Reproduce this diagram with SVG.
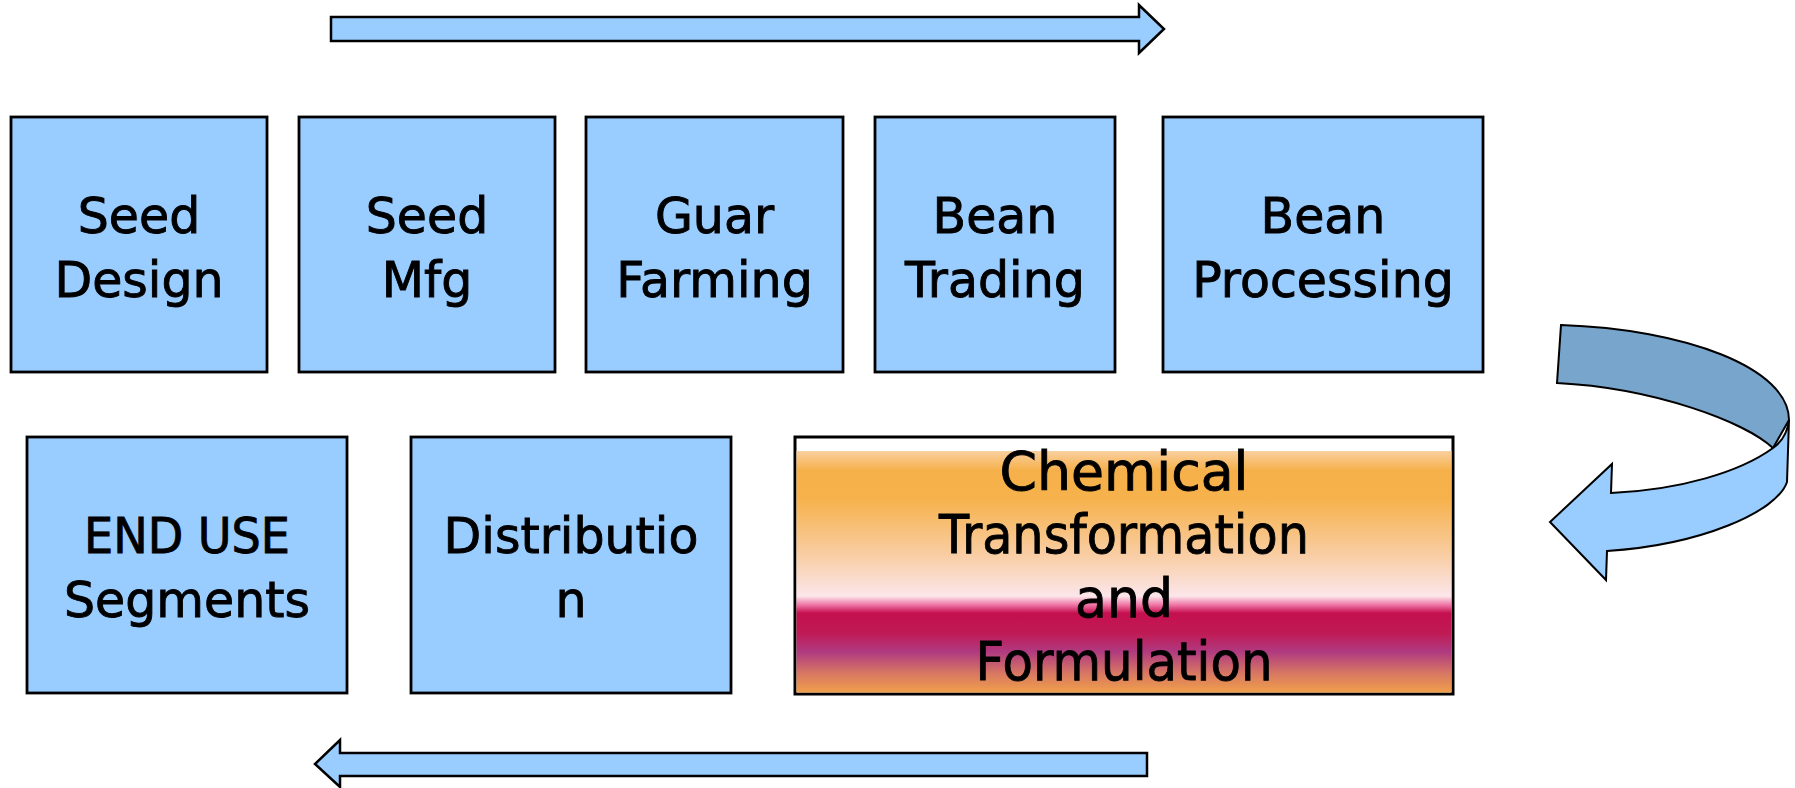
<svg xmlns="http://www.w3.org/2000/svg" width="1795" height="788" viewBox="0 0 1795 788">
<style>
.box{fill:#99ccff;stroke:#000;stroke-width:2.8}
.lbl{font-family:"DejaVu Sans",sans-serif;font-size:49px;fill:#000;stroke:#000;stroke-width:0.9;text-anchor:middle}
.big{font-size:53px}
.arr{fill:#99ccff;stroke:#000;stroke-width:2.5;stroke-linejoin:miter}
</style>
<defs>
<linearGradient id="chem" x1="0" y1="451" x2="0" y2="693" gradientUnits="userSpaceOnUse">
<stop offset="0" stop-color="#f9d0a0"/>
<stop offset="0.08" stop-color="#f6b04a"/>
<stop offset="0.2" stop-color="#f6b24c"/>
<stop offset="0.42" stop-color="#f9cca0"/>
<stop offset="0.6" stop-color="#fbe6ea"/>
<stop offset="0.635" stop-color="#f078a8"/>
<stop offset="0.67" stop-color="#c4104e"/>
<stop offset="0.75" stop-color="#c01a54"/>
<stop offset="0.83" stop-color="#b03a80"/>
<stop offset="0.92" stop-color="#d87862"/>
<stop offset="1" stop-color="#f0a04a"/>
</linearGradient>
</defs>
<rect width="1795" height="788" fill="#fff"/>
<g id="connectors">
<path class="arr" d="M331,17 L1139,17 L1139,5 L1164,29 L1139,53 L1139,41 L331,41 Z"/>
<path class="arr" d="M1147,753 L340,753 L340,740 L315,764 L340,787 L340,776 L1147,776 Z"/>
<g id="curved-arrow">
<path d="M1561,325 C1685,329 1789,368 1789,420 L1773,448 C1745,422 1655,388 1557,383 Z" fill="#78a5cc" stroke="#000" stroke-width="2"/>
<path d="M1773,448 Q1787,438 1789,420 L1787,482 C1777,512 1700,545 1607,551 L1606,580 L1550,522 L1612,464 L1611,493 C1680,490 1740,472 1773,448 Z" fill="#99ccff" stroke="#000" stroke-width="2" stroke-linejoin="miter"/>
</g>
</g>
<g id="seed-design">
<rect class="box" x="11" y="117" width="256" height="255"/>
<text class="lbl" x="139" y="233">Seed</text>
<text class="lbl" x="139" y="297">Design</text>
</g>
<g id="seed-mfg">
<rect class="box" x="299" y="117" width="256" height="255"/>
<text class="lbl" x="427" y="233">Seed</text>
<text class="lbl" x="427" y="297">Mfg</text>
</g>
<g id="guar-farming">
<rect class="box" x="586" y="117" width="257" height="255"/>
<text class="lbl" x="714.5" y="233">Guar</text>
<text class="lbl" x="714.5" y="297">Farming</text>
</g>
<g id="bean-trading">
<rect class="box" x="875" y="117" width="240" height="255"/>
<text class="lbl" x="995" y="233">Bean</text>
<text class="lbl" x="995" y="297">Trading</text>
</g>
<g id="bean-processing">
<rect class="box" x="1163" y="117" width="320" height="255"/>
<text class="lbl" x="1323" y="233">Bean</text>
<text class="lbl" x="1323" y="297">Processing</text>
</g>
<g id="end-use">
<rect class="box" x="27" y="437" width="320" height="256"/>
<text class="lbl" x="187" y="553" textLength="206" lengthAdjust="spacingAndGlyphs">END USE</text>
<text class="lbl" x="187" y="617">Segments</text>
</g>
<g id="distribution">
<rect class="box" x="411" y="437" width="320" height="256"/>
<text class="lbl" x="571" y="553">Distributio</text>
<text class="lbl" x="571" y="617">n</text>
</g>
<g id="chemical">
<rect x="795" y="437" width="658" height="257" fill="#fff" stroke="#000" stroke-width="3"/>
<rect x="796.5" y="451" width="655" height="241.5" fill="url(#chem)"/>
<text class="lbl big" x="1124" y="490" textLength="249" lengthAdjust="spacingAndGlyphs">Chemical</text>
<text class="lbl big" x="1124" y="553" textLength="370" lengthAdjust="spacingAndGlyphs">Transformation</text>
<text class="lbl big" x="1124" y="617" textLength="98" lengthAdjust="spacingAndGlyphs">and</text>
<text class="lbl big" x="1124" y="680" textLength="297" lengthAdjust="spacingAndGlyphs">Formulation</text>
</g>
</svg>
